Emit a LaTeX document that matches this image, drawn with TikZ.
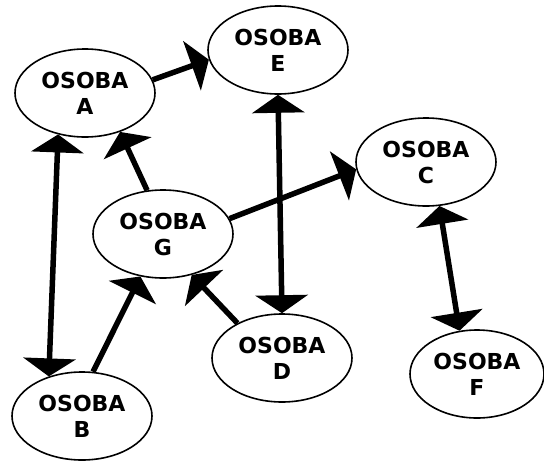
\documentclass[tikz,border=0pt]{standalone}
\usepackage{fontspec}
\setmainfont{DejaVu Sans}
\usepackage{tikz}
\usetikzlibrary{arrows.meta, shapes.geometric}

\newcommand\osobafont{\fontsize{22}{26}\selectfont\bfseries}
\tikzset{bigtip/.tip = {Triangle[length=18pt, width=52pt]}}

\begin{document}
\begin{tikzpicture}[
    x=1pt, y=-1pt,
    osoba/.style = {ellipse, draw, line width=1.6pt, inner sep=0pt,
                    minimum width=140pt, minimum height=88pt,
                    align=center, font=\osobafont},
    every edge/.style = {draw, line width=5.5pt, -bigtip},
    both/.style = {bigtip-bigtip},
                            ]
    \useasboundingbox (0,0) rectangle (544,461);
    \node (a) [osoba] at (85,93)   {OSOBA\\A};
    \node (e) [osoba] at (278,50)  {OSOBA\\E};
    \node (c) [osoba] at (426,162) {OSOBA\\C};
    \node (g) [osoba] at (163,234) {OSOBA\\G};
    \node (d) [osoba] at (282,358) {OSOBA\\D};
    \node (f) [osoba, minimum width=134pt] at (477,374) {OSOBA\\F};
    \node (b) [osoba] at (82,416)  {OSOBA\\B};
    \draw   (a.11)  edge             (e.188)
            (e.south) edge [both]    (d.north)
            (a.237) edge [both]      (b.130)
            (g.110) edge             (a.312)
            (g.13)  edge             (c.186)
            (c.287) edge [both]      (f.112)
            (b.76)  edge             (g.242)
            (d.142) edge             (g.305);
\end{tikzpicture}
\end{document}
